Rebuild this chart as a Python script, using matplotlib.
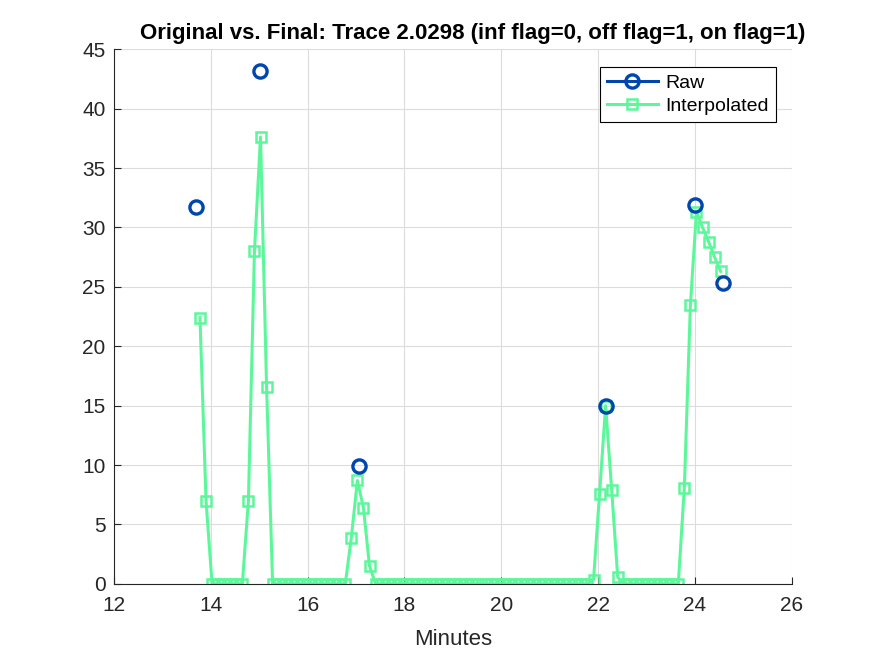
import numpy as np
import matplotlib.pyplot as plt
from matplotlib.lines import Line2D

plt.rcParams['font.family'] = ['Liberation Sans', 'DejaVu Sans']

# raw samples (minutes, value)
raw_x = [13.69, 15.01, 17.06, 22.16, 24.00, 24.57]
raw_y = [31.7, 43.2, 9.9, 15.0, 31.9, 25.3]

# interpolated trace, one value every 0.125 min starting at 13.78
interp_t0 = 13.78
interp_dt = 0.125
interp_y = [
    22.4, 7.0, 0, 0, 0, 0, 0, 0, 7.0, 28.0,
    37.6, 16.6, 0, 0, 0, 0, 0, 0, 0, 0,
    0, 0, 0, 0, 0, 3.9, 8.7, 6.4, 1.5, 0,
    0, 0, 0, 0, 0, 0, 0, 0, 0, 0,
    0, 0, 0, 0, 0, 0, 0, 0, 0, 0,
    0, 0, 0, 0, 0, 0, 0, 0, 0, 0,
    0, 0, 0, 0, 0, 0.35, 7.6, 15.0, 7.9, 0.55,
    0, 0, 0, 0, 0, 0, 0, 0, 0, 0,
    8.1, 23.5, 31.3, 30.0, 28.8, 27.5, 26.3,
]
interp_x = interp_t0 + interp_dt * np.arange(len(interp_y))

raw_color = '#0046ad'
interp_color = '#5df79b'
text_color = '#262626'

fig = plt.figure(figsize=(8.75, 6.56), dpi=100)
ax = fig.add_axes([0.13, 0.11, 0.775, 0.815])

ax.plot(interp_x, interp_y, '-s', color=interp_color, lw=2.2,
        markersize=7.5, markerfacecolor='none', markeredgewidth=1.8, zorder=2)
ax.plot(raw_x, raw_y, 'o', linestyle='none', color=raw_color,
        markersize=9.5, markerfacecolor='none', markeredgewidth=2.4, zorder=3)

ax.set_xlim(12, 26)
ax.set_ylim(0, 45)
ax.set_xticks(range(12, 27, 2))
ax.set_yticks(range(0, 46, 5))
ax.grid(True, color='#dcdcdc', linewidth=0.8)
ax.set_axisbelow(True)
ax.spines['top'].set_visible(False)
ax.spines['right'].set_visible(False)
ax.spines['left'].set_color(text_color)
ax.spines['bottom'].set_color(text_color)
ax.tick_params(direction='in', labelsize=15, colors=text_color, length=5)
ax.tick_params(axis='x', pad=9)
ax.tick_params(axis='y', pad=6)

ax.set_xlabel('Minutes', fontsize=16, color=text_color, labelpad=10)
ax.set_title('Original vs. Final: Trace 2.0298 (inf flag=0, off flag=1, on flag=1)',
             fontsize=16, fontweight='bold', color='black', pad=7, x=0.53)

handles = [
    Line2D([], [], color=raw_color, lw=2.2, marker='o', markersize=9.5,
           markerfacecolor='none', markeredgewidth=2.4),
    Line2D([], [], color=interp_color, lw=2.2, marker='s', markersize=7.5,
           markerfacecolor='none', markeredgewidth=1.8),
]
leg = ax.legend(handles, ['Raw', 'Interpolated'], loc='upper right',
                bbox_to_anchor=(0.976, 0.966), fontsize=14, fancybox=False,
                framealpha=1, edgecolor='black', handlelength=2.6,
                handletextpad=0.4, borderpad=0.35, labelspacing=0.28,
                borderaxespad=0)
leg.get_frame().set_linewidth(0.8)

fig.savefig('out.png', dpi=100)
